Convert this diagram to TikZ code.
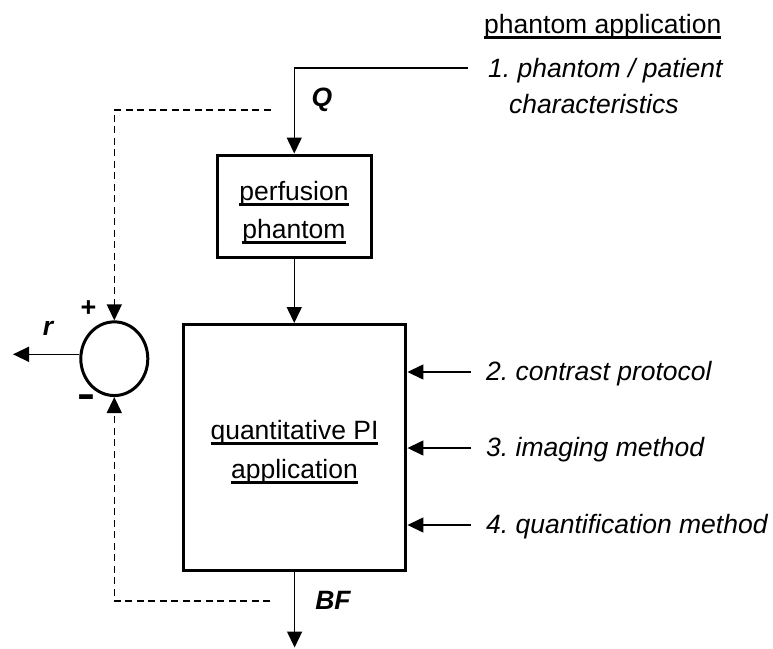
\documentclass[tikz,border=0pt]{standalone}
\usepackage{fontspec}
\setmainfont{Liberation Sans}
\usetikzlibrary{arrows.meta,shapes.geometric}
\frenchspacing

% underlined label: rule drawn just below the baseline
\newcommand\ulin[1]{\setbox0\hbox{#1}\rlap{\rule[-5.5pt]{\wd0}{2.6pt}}\box0}

\tikzset{
  txt/.style={inner sep=0pt, font=\fontsize{26.5}{38}\selectfont},
  itxt/.style={txt, font=\fontsize{26.5}{38}\selectfont\itshape},
  btxt/.style={txt, font=\fontsize{26.5}{38}\selectfont\bfseries\itshape},
  blk/.style={draw, line width=3pt, inner sep=0pt},
  conn/.style={line width=1.5pt, -{Triangle[length=16pt,width=15pt]}},
  fb/.style={conn, dash pattern=on 7pt off 4.5pt},
}

\begin{document}
\begin{tikzpicture}[x=1pt, y=-1pt]
\path[use as bounding box] (0,0) rectangle (773,648);

% blocks
\node[blk, minimum width=153.5pt, minimum height=102.5pt] (pp) at (294.25,206.25) {};
\node[blk, minimum width=222.7pt, minimum height=245.5pt] (qa) at (294.6,447.25) {};
\node[draw, ellipse, line width=3pt, inner sep=0pt,
      minimum width=67pt, minimum height=73.7pt] (sum) at (114.3,358.7) {};

% block labels
\node[txt, anchor=base] (pp1) at (294,200) {\ulin{perfusion}};
\node[txt, anchor=base] (pp2) at (294,238) {\ulin{phantom}};
\node[txt, anchor=base] (qa1) at (294.5,439) {\ulin{quantitative PI}};
\node[txt, anchor=base] (qa2) at (294.5,478) {\ulin{application}};

% heading and input labels
\node[txt, anchor=base west] (head) at (484,33) {\ulin{phantom application}};
\node[itxt, anchor=base west] (l1a) at (488,77) {1. phantom / patient};
\node[itxt, anchor=base west] (l1b) at (509,113) {characteristics};
\node[itxt, anchor=base west] (l2) at (486,380) {2. contrast protocol};
\node[itxt, anchor=base west] (l3) at (486,456.5) {3. imaging method};
\node[itxt, anchor=base west] (l4) at (486,533) {4. quantification method};

% signal labels
\node[btxt] (q) at (322,100) {Q};
\node[btxt] (bf) at (333,600) {BF};
\node[btxt] (r) at (48,328) {r};
\node[txt, font=\fontsize{27}{30}\selectfont\bfseries] (plus) at (88.5,309) {+};
\node[txt, font=\fontsize{40}{40}\selectfont\bfseries] (minus) at (86,401) {\scalebox{1.35}[1]{-}};

% free ends of connectors
\coordinate (c1) at (468,68);
\coordinate (c2) at (471,372);
\coordinate (c3) at (471,448);
\coordinate (c4) at (471,525);
\coordinate (out) at (294.6,647.5);
\coordinate (rout) at (13,354.3);
\coordinate (fbtop) at (270.7,110);
\coordinate (fbbot) at (270,601);

% signal flow
\draw[conn] (c1) -| (pp.north);
\draw[conn] (pp.south) -- (qa.north -| pp.south);
\draw[conn] (qa.south) -- (out);
\draw[conn] (c2) -- (c2 -| qa.east);
\draw[conn] (c3) -- (c3 -| qa.east);
\draw[conn] (c4) -- (c4 -| qa.east);
\draw[conn] ([yshift=4.4pt]sum.west) -- (rout);

% comparison feedback
\draw[fb] (fbtop) -| (sum.north);
\draw[fb] (fbbot) -| (sum.south);
\end{tikzpicture}
\end{document}
